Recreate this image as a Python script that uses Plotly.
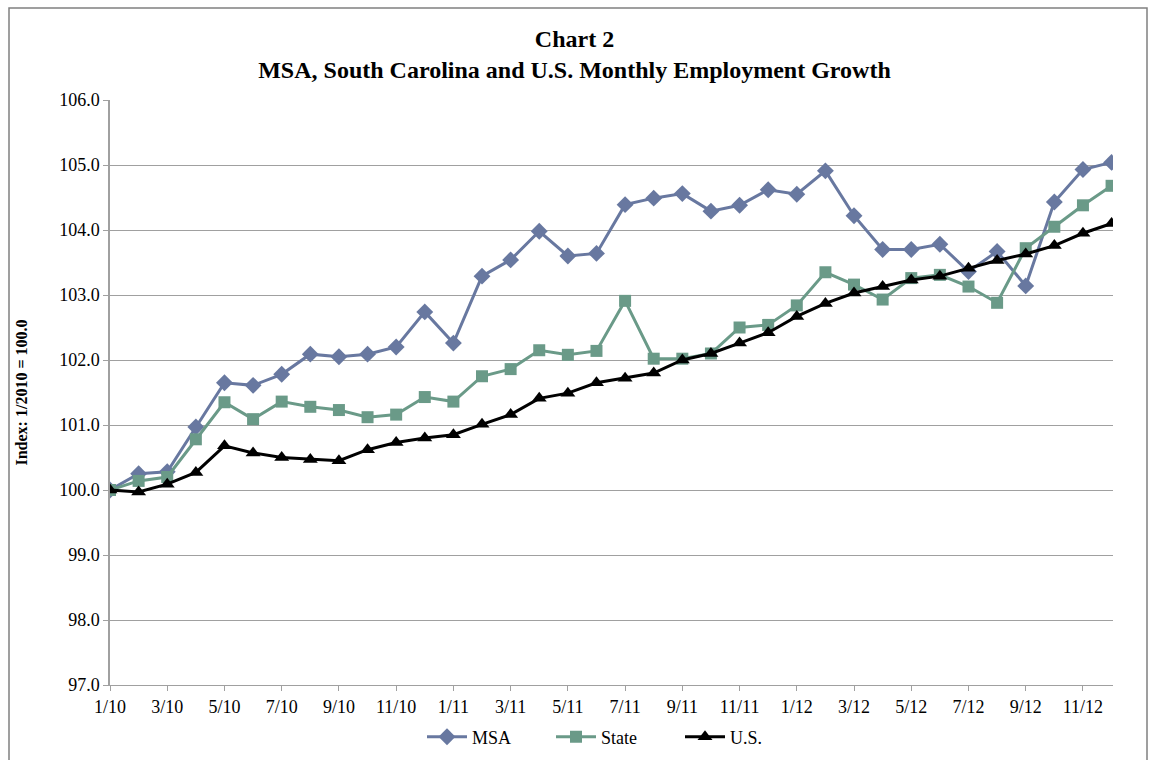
import plotly.graph_objects as go

months = [f"{m}/{y}" for y in ("10", "11", "12") for m in range(1, 13)]
tick_labels = months[::2]

msa = [100.0, 100.25, 100.28, 100.97, 101.65, 101.61, 101.78, 102.09, 102.05, 102.09, 102.2, 102.74,
       102.26, 103.29, 103.54, 103.98, 103.6, 103.64, 104.39, 104.49, 104.56, 104.29, 104.38, 104.62,
       104.55, 104.91, 104.22, 103.7, 103.7, 103.78, 103.36, 103.67, 103.14, 104.43, 104.93, 105.04]
state = [100.0, 100.14, 100.2, 100.78, 101.35, 101.09, 101.36, 101.28, 101.23, 101.12, 101.16, 101.43,
         101.36, 101.75, 101.86, 102.15, 102.08, 102.14, 102.91, 102.02, 102.02, 102.1, 102.5, 102.54,
         102.84, 103.35, 103.16, 102.93, 103.26, 103.31, 103.13, 102.88, 103.72, 104.05, 104.38, 104.68]
us = [100.0, 99.97, 100.09, 100.27, 100.68, 100.57, 100.5, 100.47, 100.45, 100.62, 100.73, 100.8,
      100.85, 101.01, 101.16, 101.41, 101.49, 101.65, 101.72, 101.8, 102.0, 102.1, 102.26, 102.42,
      102.67, 102.87, 103.03, 103.13, 103.23, 103.29, 103.41, 103.53, 103.63, 103.76, 103.95, 104.1]

FONT = "Liberation Serif, Times New Roman, serif"

fig = go.Figure()
fig.add_trace(go.Scatter(x=months, y=msa, name="MSA", mode="lines+markers",
                         line=dict(color="#6878A0", width=3),
                         marker=dict(symbol="diamond", size=13, color="#6878A0")))
fig.add_trace(go.Scatter(x=months, y=state, name="State", mode="lines+markers",
                         line=dict(color="#6A9A88", width=3),
                         marker=dict(symbol="square", size=12, color="#6A9A88")))
fig.add_trace(go.Scatter(x=months, y=us, name="U.S.", mode="lines+markers",
                         line=dict(color="#000000", width=3),
                         marker=dict(symbol="triangle-up", size=13, color="#000000")))

fig.update_layout(
    width=1149, height=760,
    margin=dict(l=110, r=36, t=100, b=75, autoexpand=False),
    paper_bgcolor="white", plot_bgcolor="white",
    font=dict(family=FONT, size=18, color="black"),
    title=dict(text="<b>Chart 2<br>MSA, South Carolina and U.S. Monthly Employment Growth</b>",
               x=0.5, xanchor="center", xref="container", yref="container",
               y=1 - 47 / 760, yanchor="top",
               font=dict(family=FONT, size=24, color="black")),
    showlegend=True,
    legend=dict(orientation="h", x=422 / 1149, xanchor="left", xref="container", yref="container",
                y=1 - 737 / 760, yanchor="middle",
                font=dict(family=FONT, size=18), entrywidth=74, entrywidthmode="pixels",
                itemwidth=40, tracegroupgap=0),
    shapes=[dict(type="rect", xref="paper", yref="paper",
                 x0=(9 - 110) / 1003, x1=(1147 - 110) / 1003,
                 y0=-0.2, y1=(685 - 8) / 585,
                 line=dict(color="#808080", width=1.5), fillcolor="rgba(0,0,0,0)", layer="below")],
)

fig.update_xaxes(type="category", range=[0, 35.05], tickmode="array", tickvals=tick_labels,
                 ticktext=tick_labels, ticks="outside", ticklen=5, tickcolor="#A0A0A0",
                 ticklabelstandoff=0,
                 showline=True, linecolor="#A0A0A0", linewidth=1, showgrid=False,
                 tickfont=dict(family=FONT, size=18), zeroline=False, automargin=False)
fig.update_yaxes(range=[97, 106], dtick=1, tickformat=".1f", ticks="outside", ticklen=5,
                 tickcolor="#A0A0A0", showline=True, linecolor="#A0A0A0", linewidth=1.5,
                 showgrid=True, gridcolor="#A0A0A0", gridwidth=1, zeroline=False,
                 tickfont=dict(family=FONT, size=18), automargin=False,
                 title=dict(text="<b>Index: 1/2010 = 100.0</b>", font=dict(family=FONT, size=16),
                            standoff=28))

fig.write_html("out.html")
